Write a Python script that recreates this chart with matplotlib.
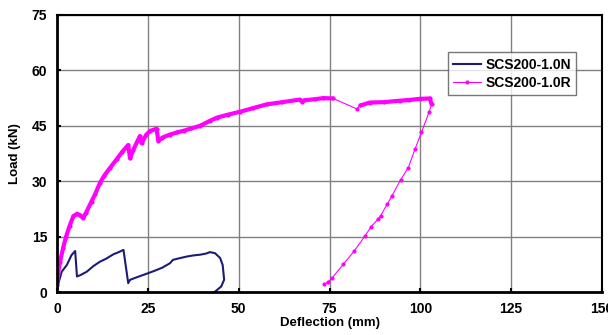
import matplotlib.pyplot as plt

# specimen SCS200-1.0N (deflection mm, load kN)
n_x = [0, 0.4, 1.3, 2.7, 4.0, 5.0, 5.5, 6.5, 8.2, 10.0, 11.8, 13.5, 15.5, 17.0, 18.3,
       19.6, 20.1, 22.0, 25.1, 27.0, 29.0, 31.1, 31.9, 33.5, 35.7, 37.5, 39.4, 41.0,
       42.1, 43.5, 44.9, 45.6, 46.0, 45.2, 43.5]
n_y = [0, 2.4, 5.5, 7.3, 10.0, 11.1, 4.2, 4.6, 5.5, 7.0, 8.2, 9.0, 10.2, 10.8, 11.4,
       2.4, 3.3, 4.0, 5.1, 5.8, 6.6, 7.8, 8.7, 9.1, 9.6, 9.9, 10.1, 10.4,
       10.8, 10.5, 9.2, 7.3, 3.3, 1.5, 0.1]

# specimen SCS200-1.0R
r_x = [0, 0.3, 0.8, 1.7, 2.5, 3.5, 4.5, 5.5, 6.3, 7.2, 8.0, 9.5, 10.5, 11.8, 13.0,
       14.5, 16.4, 18.0, 19.6, 20.1, 21.0, 22.8, 23.3, 24.5, 25.6, 27.4, 27.9, 29.0,
       31.0, 33.0, 35.0, 37.0, 39.4, 42.0, 44.0, 47.0, 50.4, 54.0, 57.7, 62.0, 66.9,
       67.5, 68.0, 71.0, 73.3, 76.0,
       82.5, 83.5, 86.1, 90.0, 94.4, 97.0, 99.9, 102.6, 103.1,
       102.4, 100.3, 98.5, 96.7, 94.6, 92.1, 90.9, 89.1, 88.4, 86.4, 84.8, 81.8,
       78.8, 75.8, 74.5, 73.5]
r_y = [2.0, 5.0, 8.0, 12.0, 15.0, 18.0, 20.5, 21.2, 20.8, 20.0, 21.5, 24.5, 26.5, 29.5, 31.5,
       33.5, 35.9, 38.0, 39.8, 36.2, 38.5, 42.2, 40.3, 42.5, 43.6, 44.2, 40.9, 41.8,
       42.6, 43.2, 43.7, 44.3, 45.0, 46.3, 47.2, 48.0, 48.8, 49.8, 50.8, 51.4, 52.1,
       51.5, 51.9, 52.2, 52.5, 52.4,
       49.6, 50.5, 51.3, 51.4, 51.8, 52.0, 52.3, 52.4, 50.8,
       48.7, 43.2, 38.6, 33.7, 30.4, 25.9, 23.8, 20.7, 19.8, 17.6, 15.2, 11.1,
       7.5, 3.9, 2.6, 2.1]

x_ticks = [0, 25, 50, 75, 100, 125, 150]
y_ticks = [0, 15, 30, 45, 60, 75]

plt.rcParams['font.family'] = ['Liberation Sans', 'DejaVu Sans']
plt.rcParams['font.weight'] = 'bold'

fig = plt.figure(figsize=(6.08, 3.35), dpi=100)
ax = fig.add_axes([57 / 608, 1 - 292 / 335, 545 / 608, 277 / 335])

navy = '#1c1c78'
pink = '#ff00ff'

ax.plot(n_x, n_y, color=navy, lw=1.5, label='SCS200-1.0N')
ax.plot(r_x, r_y, color=pink, lw=0.8, marker='o', ms=2, label='SCS200-1.0R')
# densely sampled loading branches look like a thick band
ax.plot(r_x[:46], r_y[:46], color=pink, lw=3, solid_capstyle='round')
ax.plot(r_x[47:55], r_y[47:55], color=pink, lw=3, solid_capstyle='round')

ax.set_xlim(0, 150)
ax.set_ylim(0, 75)
ax.set_xticks(x_ticks)
ax.set_yticks(y_ticks)
ax.grid(True, color='#808080', lw=1)
ax.set_axisbelow(True)
ax.tick_params(direction='in', length=3, width=1.5, labelsize=10, pad=7)
for s in ax.spines.values():
    s.set_linewidth(1.5)
ax.spines['left'].set_linewidth(2)
ax.spines['bottom'].set_linewidth(2)

ax.set_xlabel('Deflection (mm)', fontsize=9.5, fontweight='bold', labelpad=1)
ax.set_ylabel('Load (kN)', fontsize=9.5, fontweight='bold', labelpad=8)

leg = ax.legend(loc='upper left', bbox_to_anchor=(0.717, 0.866), fontsize=10,
                frameon=True, fancybox=False, handlelength=2.0, borderpad=0.4,
                labelspacing=0.3, handletextpad=0.3, borderaxespad=0)
leg.get_frame().set_edgecolor('#555555')
leg.get_frame().set_linewidth(1)

fig.savefig('out.png', dpi=100)
